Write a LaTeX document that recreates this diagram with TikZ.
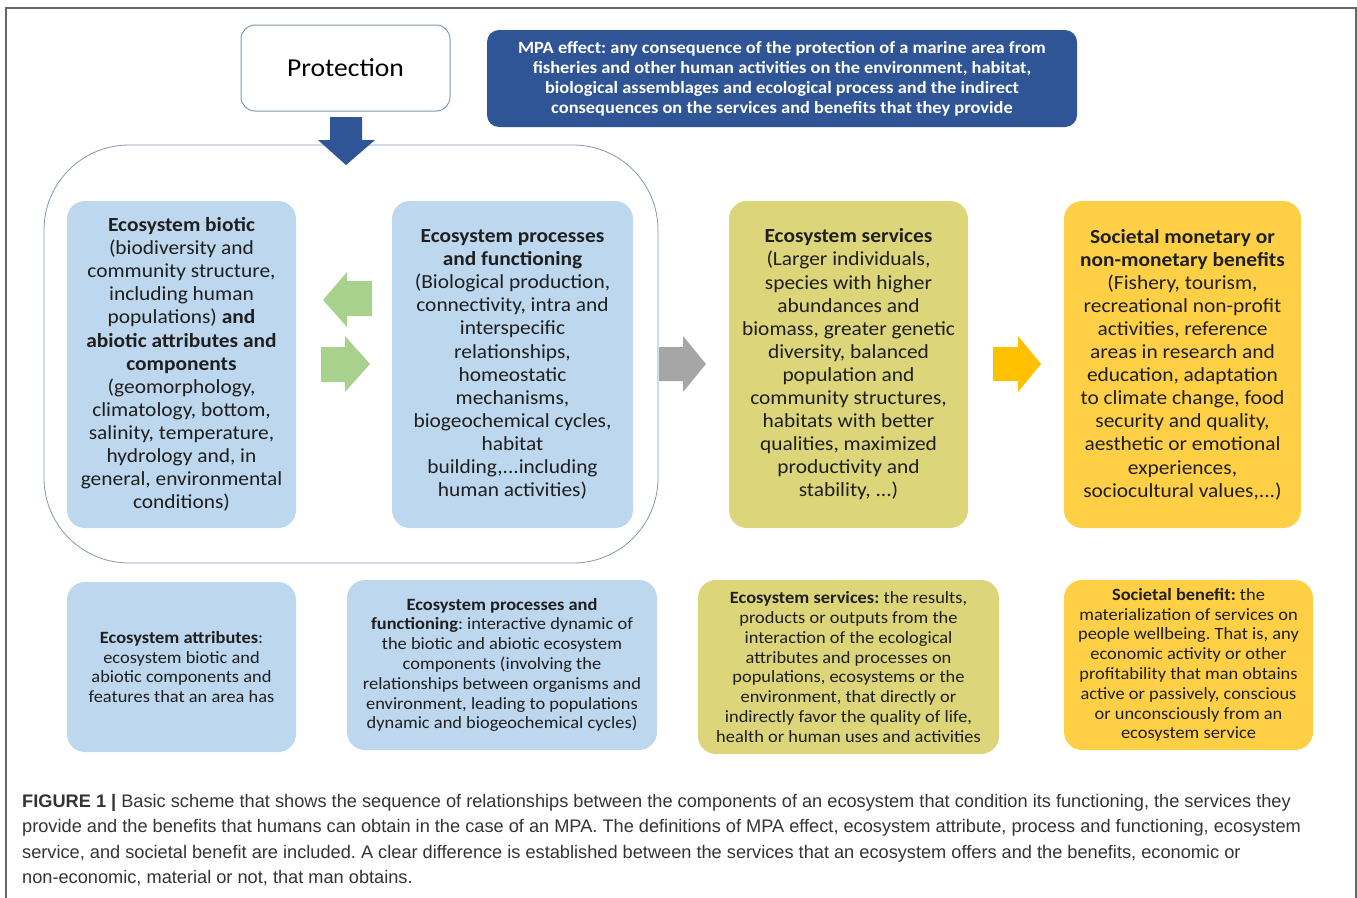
\documentclass[tikz,border=0pt]{standalone}
\usepackage{fontspec}
\setmainfont{Carlito}[FakeStretch=1.07]
\newfontfamily\capfont{Liberation Sans}
\usetikzlibrary{calc, positioning}
\frenchspacing

\definecolor{mpablue}{HTML}{2F5597}
\definecolor{edgeblue}{HTML}{8497B0}
\definecolor{boxblue}{HTML}{BDD7EE}
\definecolor{olive}{HTML}{DCD57A}
\definecolor{gold}{HTML}{FFD045}
\definecolor{amber}{HTML}{FFC000}
\definecolor{leaf}{HTML}{A9D18E}
\definecolor{stone}{HTML}{A6A6A6}

\begin{document}
\begin{tikzpicture}[x=1pt, y=-1pt,
  box/.style={rectangle, rounded corners=18pt, align=center, inner sep=0pt, text=black!88},
  mainbox/.style={box, minimum height=327pt, font=\fontsize{20}{23.1}\selectfont},
  defbox/.style={box, minimum height=170pt, font=\fontsize{17.2}{19.8}\selectfont}]
  \useasboundingbox (0,0) rectangle (1357,897);

  % Frame
  \draw[gray!80!black, line width=1.5pt] (6,910) -- (6,8) -- (1356,8) -- (1356,910);

  % Protection and MPA definition
  \node[rectangle, draw=edgeblue, line width=1pt, rounded corners=14pt, fill=white,
        minimum width=209pt, minimum height=86pt, font=\fontsize{25.8}{30}\selectfont]
        (prot) at (345.5,68) {Protection};
  \node[rectangle, fill=mpablue, rounded corners=12pt, text=white, align=center,
        minimum width=590pt, minimum height=97pt, inner sep=0pt,
        font=\bfseries\fontsize{17.2}{20}\selectfont] (mpa) at (782,78.5)
        {MPA effect: any consequence of the protection of a marine area from\\
         fisheries and other human activities on the environment, habitat,\\
         biological assemblages and ecological process and the indirect\\
         consequences on the services and benefits that they provide};

  % Ecosystem container
  \node[rectangle, draw=edgeblue, line width=0.8pt, rounded corners=85pt,
        minimum width=614pt, minimum height=418pt] (cont) at (351,354) {};

  % Protection arrow
  \fill[mpablue] (330,117) -- (362,117) -- (362,140) -- (375,140) -- (346,165)
        -- (318,140) -- (330,140) -- cycle;

  % Main row
  \node[mainbox, fill=boxblue, minimum width=229pt] (attr) at (181.5,364.5)
        {\textbf{Ecosystem biotic}\\ (biodiversity and\\ community structure,\\
         including human\\ populations) \textbf{and}\\ \textbf{abiotic attributes and}\\
         \textbf{components}\\ (geomorphology,\\ climatology, bottom,\\
         salinity, temperature,\\ hydrology and, in\\ general, environmental\\ conditions)};
  \node[mainbox, fill=boxblue, minimum width=241pt] (proc) at (512.5,364.5)
        {\textbf{Ecosystem processes}\\ \textbf{and functioning}\\ (Biological production,\\
         connectivity, intra and\\ interspecific\\ relationships,\\ homeostatic\\
         mechanisms,\\ biogeochemical cycles,\\ habitat\\ building,...including\\ human activities)};
  \node[mainbox, fill=olive, minimum width=239pt] (serv) at (848.5,364.5)
        {\textbf{Ecosystem services}\\ (Larger individuals,\\ species with higher\\
         abundances and\\ biomass, greater genetic\\ diversity, balanced\\ population and\\
         community structures,\\ habitats with better\\ qualities, maximized\\
         productivity and\\ stability, ...)};
  \node[mainbox, fill=gold, minimum width=237pt] (bene) at (1182.5,364.5)
        {\textbf{Societal monetary or}\\ \textbf{non-monetary benefits}\\ (Fishery, tourism,\\
         recreational non-profit\\ activities, reference\\ areas in research and\\
         education, adaptation\\ to climate change, food\\ security and quality,\\
         aesthetic or emotional\\ experiences,\\ sociocultural values,...)};

  % Block arrows between the boxes
  \fill[leaf] (372,281) -- (347,281) -- (347,272) -- (323,300) -- (347,327)
        -- (347,316) -- (372,316) -- cycle;
  \fill[leaf] (321,347) -- (345,347) -- (345,336) -- (370,364) -- (345,392)
        -- (345,382) -- (321,382) -- cycle;
  \fill[stone] (659,347) -- (683,347) -- (683,336) -- (706,364) -- (683,392)
        -- (683,381) -- (659,381) -- cycle;
  \fill[amber] (993,347) -- (1018,347) -- (1018,336) -- (1041,364) -- (1018,392)
        -- (1018,381) -- (993,381) -- cycle;

  % Definitions
  \node[defbox, fill=boxblue, minimum width=229pt] (defattr) at (181.5,667)
        {\textbf{Ecosystem attributes}:\\ ecosystem biotic and\\
         abiotic components and\\ features that an area has};
  \node[defbox, fill=boxblue, minimum width=310pt] (defproc) at (502,665)
        {\textbf{Ecosystem processes and}\\ \textbf{functioning}: interactive dynamic of\\
         the biotic and abiotic ecosystem\\ components (involving the\\
         relationships between organisms and\\ environment, leading to populations\\
         dynamic and biogeochemical cycles)};
  \node[defbox, fill=olive, minimum width=301pt, minimum height=174pt] (defserv) at (848.5,667)
        {\textbf{Ecosystem services:} the results,\\ products or outputs from the\\
         interaction of the ecological\\ attributes and processes on\\
         populations, ecosystems or the\\ environment, that directly or\\
         indirectly favor the quality of life,\\ health or human uses and activities};
  \node[defbox, fill=gold, minimum width=249pt] (defbene) at (1188.5,665)
        {\textbf{Societal benefit:} the\\ materialization of services on\\
         people wellbeing. That is, any\\ economic activity or other\\
         profitability that man obtains\\ active or passively, conscious\\
         or unconsciously from an\\ ecosystem service};

  % Caption
  \node[anchor=north west, align=left, inner sep=0pt, text=black!80,
        font=\capfont\fontsize{18.2}{25.5}\selectfont] (cap) at (22,794)
        {\textbf{FIGURE 1 |} Basic scheme that shows the sequence of relationships between the components of an ecosystem that condition its functioning, the services they\\
         provide and the benefits that humans can obtain in the case of an MPA. The definitions of MPA effect, ecosystem attribute, process and functioning, ecosystem\\
         service, and societal benefit are included. A clear difference is established between the services that an ecosystem offers and the benefits, economic or\\
         non-economic, material or not, that man obtains.};
\end{tikzpicture}
\end{document}
